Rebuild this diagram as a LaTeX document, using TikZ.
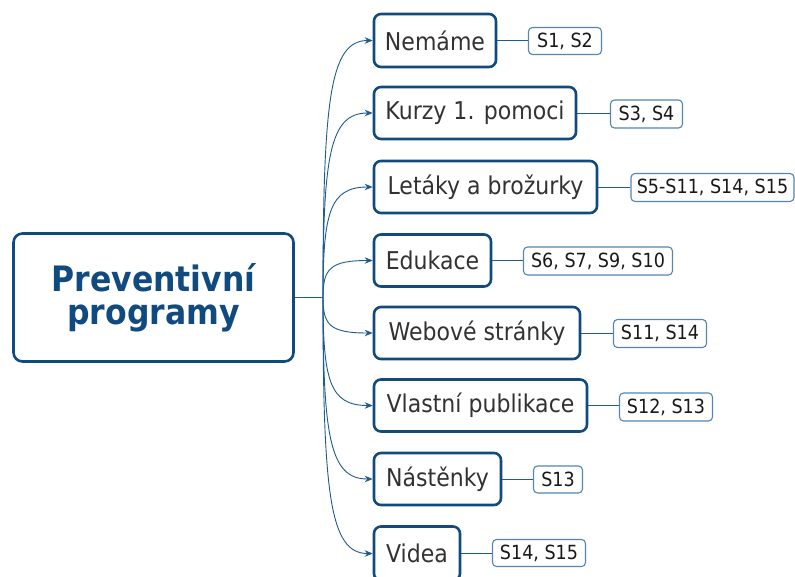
\documentclass[tikz,border=0pt]{standalone}
\usepackage{fontspec}
\setmainfont{DejaVu Sans}[FakeStretch=0.9]
\usetikzlibrary{arrows.meta,calc}
\definecolor{dkblue}{RGB}{16,74,126}
\definecolor{lbblue}{RGB}{84,134,178}
\definecolor{connblue}{RGB}{30,92,142}
\definecolor{txtgray}{RGB}{50,50,50}
\tikzset{
  rootbox/.style={draw=dkblue, line width=2.6pt, rounded corners=9pt, fill=white,
    minimum width=280pt, minimum height=128pt, inner sep=0pt, align=center,
    text=dkblue, font=\bfseries\fontsize{35}{33}\selectfont},
  childbox/.style={draw=dkblue, line width=2.6pt, rounded corners=7pt, fill=white,
    inner sep=0pt, text=txtgray, font=\fontsize{24.5}{28}\selectfont},
  labelbox/.style={draw=lbblue, line width=1.1pt, rounded corners=4pt, fill=white,
    inner sep=0pt, text=black!90, font=\fontsize{19.5}{22}\selectfont},
  conn/.style={draw=connblue, line width=0.9pt, -{Stealth[length=8pt,width=6.5pt]}},
  tie/.style={draw=connblue, line width=1pt}
}
\begin{document}
\begin{tikzpicture}[x=1pt,y=-1pt]
\useasboundingbox[fill=white] (0,0) rectangle (795,576);
\node[rootbox] (root) at (153.5,297.5) {Preventivní\\programy};
\coordinate (b) at (323,297.5);
% children
\node[childbox, minimum width=122pt, minimum height=53pt] (c1) at (435,40.5) {Nemáme};
\node[childbox, minimum width=202pt, minimum height=52pt] (c2) at (475,113) {Kurzy 1. pomoci};
\node[childbox, minimum width=223pt, minimum height=52pt] (c3) at (485.5,187) {Letáky a brožurky};
\node[childbox, minimum width=117pt, minimum height=52pt] (c4) at (432.5,260.5) {Edukace};
\node[childbox, minimum width=206pt, minimum height=52pt] (c5) at (477,333) {Webové stránky};
\node[childbox, minimum width=213pt, minimum height=52pt] (c6) at (480.5,405.5) {Vlastní publikace};
\node[childbox, minimum width=127pt, minimum height=52pt] (c7) at (437.5,479) {Nástěnky};
\node[childbox, minimum width=86pt, minimum height=54pt] (c8) at (417,553.5) {Videa};
% labels
\node[labelbox, minimum width=73pt, minimum height=27pt] (l1) at (565,41) {S1, S2};
\node[labelbox, minimum width=72pt, minimum height=28pt] (l2) at (646.5,114) {S3, S4};
\node[labelbox, minimum width=163pt, minimum height=28pt] (l3) at (712.5,187.5) {S5-S11, S14, S15};
\node[labelbox, minimum width=149pt, minimum height=28pt] (l4) at (598,261) {S6, S7, S9, S10};
\node[labelbox, minimum width=93pt, minimum height=28pt] (l5) at (660,333.5) {S11, S14};
\node[labelbox, minimum width=93pt, minimum height=28pt] (l6) at (666,407) {S12, S13};
\node[labelbox, minimum width=49pt, minimum height=27pt] (l7) at (558,479.5) {S13};
\node[labelbox, minimum width=93pt, minimum height=27pt] (l8) at (539,553) {S14, S15};
% root to branch
\draw[tie] (root.east) -- (b);
% curved connectors
\foreach \c in {c1,c2,c3,c4,c5,c6,c7,c8}{
  \draw[conn] (b) .. controls ($(b)!0.77!(b|-\c.west)$) and ($(\c.west)+(-43,0)$) .. (\c.west);
}
% child to label ties (horizontal)
\foreach \c/\l in {c1/l1,c2/l2,c3/l3,c4/l4,c5/l5,c6/l6,c7/l7,c8/l8}{
  \draw[tie] (\c.east) -- (\c.east -| \l.west);
}
\end{tikzpicture}
\end{document}
